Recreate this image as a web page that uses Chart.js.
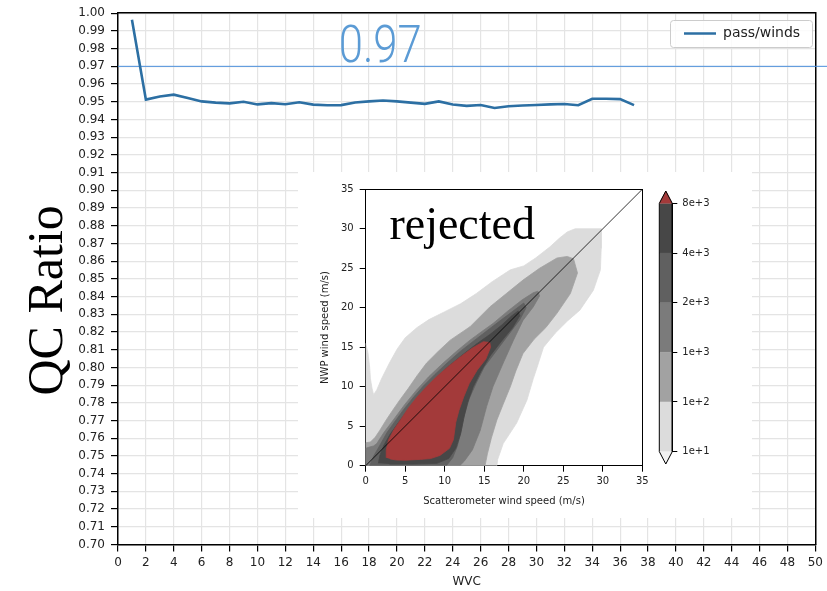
<!DOCTYPE html>
<html><head><meta charset="utf-8">
<script src="https://cdn.jsdelivr.net/npm/chart.js@4.4.1/dist/chart.umd.min.js"></script>
<style>
html,body{margin:0;padding:0;background:#fff;}
#wrap{position:relative;width:827px;height:591px;overflow:hidden;}
#main{position:absolute;left:0;top:0;}
#insetBox{position:absolute;left:298px;top:172px;width:454px;height:346px;background:#fff;}
#inset{position:absolute;left:0;top:0;}
#cbar{position:absolute;left:347px;top:8px;}
</style></head>
<body>
<div id="wrap">
<canvas id="main" width="827" height="591"></canvas>
<div id="insetBox">
 <canvas id="inset" width="360" height="346"></canvas>
 <canvas id="cbar" width="107" height="295"></canvas>
</div>
</div>
<script>
// ---------------- main chart data ----------------
const wvc = [1,2,3,4,5,6,7,8,9,10,11,12,13,14,15,16,17,18,19,20,21,22,23,24,25,26,27,28,29,30,31,32,33,34,35,36,37];
const passWinds = [0.9963,0.9512,0.9530,0.9540,0.9521,0.9502,0.9495,0.9491,0.9500,0.9485,0.9492,0.9486,0.9497,0.9484,0.9480,0.9481,0.9496,0.9502,0.9507,0.9502,0.9495,0.9488,0.9502,0.9484,0.9477,0.9482,0.9465,0.9475,0.9479,0.9482,0.9485,0.9487,0.9480,0.9517,0.9517,0.9515,0.9481];
const threshold = 0.97;
const thresholdText = '0.97';
const thresholdTextAt = 18.8;
const seriesLabel = 'pass/winds';
const xTitle = 'WVC';
const yTitle = 'QC Ratio';

// ---------------- inset (density contour) data ----------------
const insetTitle = 'rejected';
const insetXTitle = 'Scatterometer wind speed (m/s)';
const insetYTitle = 'NWP wind speed (m/s)';
const diagonal = [[0,0],[35,35]];
const contour1e1 = [[0,0],[0,15.5],[0.3,14.2],[0.5,12.5],[0.6,11],[0.8,9.8],[1.0,9.0],[1.4,9.6],[2,11.0],[3,13.0],[4,14.8],[5,16.2],[6.5,17.5],[8,18.5],[10,19.5],[12,20.5],[14,21.8],[16,23.3],[18.3,24.8],[20,25.3],[21.5,26.3],[23.3,27.7],[24.5,28.8],[25.5,29.6],[26.5,30],[29.8,30],[29.8,27.5],[29.7,24.8],[28.8,22.2],[27.1,19.7],[25.5,18.3],[24,16.8],[22.5,15],[21.7,12.5],[21.2,11],[20.4,8.3],[19.1,5.4],[17.4,2.8],[16.7,0.8],[16.6,0]];
const contour1e2 = [[0,0],[0,2.9],[0.6,3.0],[1.2,3.6],[1.8,4.5],[2.6,5.8],[3.4,7.0],[4.3,8.3],[5.4,9.8],[6.5,11.4],[7.7,13.0],[9.2,14.5],[10.7,15.9],[13.2,17.6],[15.7,20.1],[17.8,21.8],[19.9,23.5],[22,25],[24.2,26.3],[25.5,26.5],[26.3,26.2],[26.8,24.4],[25.9,21.8],[24.2,19.3],[22.8,17.5],[21.3,16],[19.9,14.2],[19,12],[18.3,10],[17.4,7.8],[16.6,5.8],[15.9,3.5],[15.4,1.5],[15.1,0]];
const contour1e3 = [[0,0],[0,2.2],[0.6,2.4],[1.0,2.5],[1.4,2.8],[2.3,4.2],[3.5,5.8],[4.9,7.7],[6.45,9.6],[8,11.3],[9.8,13],[11.5,14.5],[13.2,15.9],[14.7,17],[16.1,18],[18,19.6],[19.8,21],[21.2,21.9],[21.8,22.1],[22.0,21.5],[21.2,20.1],[19.9,18.4],[18.7,15.9],[17.4,13],[16.1,10],[15.3,7.5],[14.5,4.5],[13.5,2],[12.5,0.6],[11.9,0]];
const contour2e3 = [[0.5,0],[1.0,1.2],[1.8,2.6],[2.7,4.2],[3.7,5.6],[4.8,7.1],[6.0,8.6],[7.3,10.1],[8.7,11.5],[10.3,13.0],[12,14.5],[13.8,15.9],[15.5,17.2],[17.2,18.5],[18.8,19.7],[20.0,20.6],[20.3,20.0],[19.5,18.5],[18.0,16.5],[16.5,14.5],[15.0,12.5],[14.0,10.5],[13.1,8.5],[12.5,6.5],[12.1,4.5],[11.6,2.5],[11.0,1.0],[10.2,0]];
const contour4e3 = [[1.6,0.3],[1.8,1.3],[2.3,2.6],[3.1,4.0],[4.1,5.4],[5.2,6.9],[6.4,8.4],[7.6,9.8],[9.0,11.2],[10.5,12.6],[12.2,14.0],[14.0,15.4],[15.7,16.6],[17.2,17.8],[18.5,19.0],[19.3,19.6],[19.5,19.0],[18.6,17.5],[17.2,15.8],[15.8,14.0],[14.6,12.0],[13.6,10.0],[12.9,8.0],[12.4,6.0],[12.0,4.0],[11.4,2.2],[10.5,0.9],[9.0,0.3],[6,0.2],[3,0.2]];
const contour8e3 = [[2.6,1.0],[2.6,2.0],[2.9,3.3],[3.6,4.6],[4.4,5.8],[5.4,7.3],[6.5,8.7],[7.7,10.0],[9.0,11.3],[10.5,12.6],[12.0,13.8],[13.5,14.9],[14.9,15.7],[15.7,15.6],[15.8,15.0],[15.2,13.5],[14.1,12.1],[13.1,10.4],[12.4,8.7],[11.8,7.0],[11.4,5.5],[11.1,3.3],[10.6,2.2],[9.4,1.3],[8.2,0.9],[6.9,0.8],[5.0,0.7],[3.9,0.72],[3.1,0.85]];
const cbLabels = ['1e+1','1e+2','1e+3','2e+3','4e+3','8e+3'];

// ---------------- styles ----------------
const levelColors = ['#dcdcdc','#a2a2a2','#7b7b7b','#606060','#474747','#a33a3a'];
const underColor = '#f2f2f2';
const toXY = a => a.map(p => ({x: p[0], y: p[1]}));

Chart.defaults.font.family = "'DejaVu Sans', sans-serif";
Chart.defaults.color = '#222';

// ---------------- main chart ----------------
const legendBox = {x: 670, y: 20, w: 142, h: 27};
const legendFrame = {
  id: 'legendFrame',
  afterLayout(chart) {
    const lg = chart.legend; if (!lg) return;
    const pad = lg.options.labels.padding;
    const fs = lg.options.labels.font.size;
    const b = legendBox;
    lg.left = b.x + 14 - pad;
    lg.top = b.y + b.h / 2 - pad - fs / 2;
    lg.right = b.x + b.w; lg.bottom = b.y + b.h;
    lg.width = lg.right - lg.left; lg.height = lg.bottom - lg.top;
    if (!lg.__wrapped) {
      const orig = lg.draw;
      lg.draw = function () {
        const c = chart.ctx;
        c.save();
        c.beginPath();
        c.roundRect(b.x + 0.5, b.y + 0.5, b.w, b.h, 3);
        c.fillStyle = 'rgba(255,255,255,0.85)';
        c.fill();
        c.strokeStyle = '#cccccc'; c.lineWidth = 1;
        c.stroke();
        c.restore();
        return orig.apply(this, arguments);
      };
      lg.__wrapped = true;
    }
  }
};
const mainText = {
  id: 'mainText',
  afterDatasetsDraw(chart) {
    const {ctx, chartArea, scales: {x, y}} = chart;
    ctx.save();
    ctx.fillStyle = '#5b9bd5';
    ctx.font = '300 52px Roboto, "Open Sans", sans-serif';
    ctx.textAlign = 'center'; ctx.textBaseline = 'alphabetic';
    ctx.fillText(thresholdText, x.getPixelForValue(thresholdTextAt), y.getPixelForValue(threshold) - 4.5, 83);
    ctx.restore();
    ctx.save();
    ctx.translate(62, (chartArea.top + chartArea.bottom) / 2 + 21.5);
    ctx.rotate(-Math.PI / 2);
    ctx.fillStyle = '#000';
    ctx.font = '50px "Liberation Serif", "Times New Roman", serif';
    ctx.textAlign = 'center'; ctx.textBaseline = 'alphabetic';
    ctx.fillText(yTitle, 0, 0);
    ctx.restore();
  }
};
const gridStyle = {color: '#e4e4e4', lineWidth: 1.2, tickColor: '#000', tickLength: 7, tickWidth: 1.2};
new Chart(document.getElementById('main'), {
  type: 'line',
  data: {datasets: [
    {label: seriesLabel, data: wvc.map((v, i) => ({x: v, y: passWinds[i]})), borderColor: '#2c6fa3', backgroundColor: '#2c6fa3', borderWidth: 2.6, pointRadius: 0, tension: 0, order: 0},
    {label: 'threshold', data: [{x: 0, y: threshold}, {x: 51, y: threshold}], borderColor: '#4a8fdc', borderWidth: 1, pointRadius: 0, clip: false, order: 1}
  ]},
  options: {
    responsive: false, animation: false, events: [],
    layout: {padding: {top: 12.5, right: 10, left: 0, bottom: 0}},
    plugins: {
      legend: {position: 'chartArea', align: 'start',
        labels: {filter: it => it.text === seriesLabel, usePointStyle: true, pointStyle: 'line', pointStyleWidth: 32, padding: 6, font: {size: 14}, color: '#222'}},
      tooltip: {enabled: false}
    },
    scales: {
      x: {type: 'linear', min: 0, max: 50, ticks: {stepSize: 2, padding: 4, font: {size: 12}, maxRotation: 0}, grid: gridStyle,
          border: {color: '#000', width: 1.5}, title: {display: true, text: xTitle, font: {size: 12}, padding: {top: 0, bottom: 2}},
          afterFit(s) { s.height = 46.5; }},
      y: {type: 'linear', min: 0.70, max: 1.00, ticks: {stepSize: 0.01, padding: 6, font: {size: 12}, callback: v => Number(v).toFixed(2)}, grid: gridStyle,
          border: {color: '#000', width: 1.5}, afterFit(s) { s.width = 118; }},
      xTop: {type: 'linear', position: 'top', min: 0, max: 50, grid: {display: false}, ticks: {display: false}, border: {color: '#000', width: 1.5}, afterFit(s) { s.height = 0; }},
      yRight: {type: 'linear', position: 'right', min: 0.7, max: 1, grid: {display: false}, ticks: {display: false}, border: {color: '#000', width: 1.5}, afterFit(s) { s.width = 0; }}
    }
  },
  plugins: [legendFrame, mainText]
});

// ---------------- inset chart ----------------
const insetText = {
  id: 'insetText',
  afterDatasetsDraw(chart) {
    const {ctx, scales: {x, y}} = chart;
    ctx.save();
    ctx.fillStyle = '#000';
    ctx.font = '46px "Liberation Serif", "Times New Roman", serif';
    ctx.textAlign = 'left'; ctx.textBaseline = 'alphabetic';
    ctx.fillText(insetTitle, x.getPixelForValue(3.0), y.getPixelForValue(28.7));
    ctx.restore();
  }
};
const contours = [contour1e1, contour1e2, contour1e3, contour2e3, contour4e3, contour8e3];
const insetSets = contours.map((pts, i) => ({
  data: toXY(pts), fill: 'shape', backgroundColor: levelColors[i], borderColor: levelColors[i],
  borderWidth: 0.8, pointRadius: 0, tension: 0, order: 10 - i
}));
insetSets.push({data: toXY(diagonal), borderColor: '#000', borderWidth: 0.8, pointRadius: 0, fill: false, order: 0});
const insetTicks = {stepSize: 5, font: {size: 10}, maxRotation: 0};
new Chart(document.getElementById('inset'), {
  type: 'line',
  data: {datasets: insetSets},
  options: {
    responsive: false, animation: false, events: [],
    layout: {padding: {top: 17.3, right: 15.7, left: 0, bottom: 0}},
    plugins: {legend: {display: false}, tooltip: {enabled: false}},
    scales: {
      x: {type: 'linear', min: 0, max: 35, ticks: Object.assign({padding: 4}, insetTicks),
          grid: {drawOnChartArea: false, tickLength: 6, tickColor: '#000'}, border: {color: '#000', width: 1},
          title: {display: true, text: insetXTitle, font: {size: 10}, padding: {top: 0, bottom: 10.3}},
          afterFit(s) { s.height = 52.3; }},
      y: {type: 'linear', min: 0, max: 35, ticks: Object.assign({padding: 6}, insetTicks),
          grid: {drawOnChartArea: false, tickLength: 6, tickColor: '#000'}, border: {color: '#000', width: 1},
          title: {display: true, text: insetYTitle, font: {size: 10}, padding: {top: 21, bottom: 0}},
          afterFit(s) { s.width = 67.7; }},
      x2: {type: 'linear', position: 'top', min: 0, max: 35, grid: {display: false}, ticks: {display: false}, border: {color: '#000', width: 1}, afterFit(s) { s.height = 0; }},
      y2: {type: 'linear', position: 'right', min: 0, max: 35, grid: {display: false}, ticks: {display: false}, border: {color: '#000', width: 1}, afterFit(s) { s.width = 0; }}
    }
  },
  plugins: [insetText]
});

// ---------------- colorbar ----------------
const cbSets = levelColors.slice(0, 5).map((c, i) => ({
  data: toXY([[0, i], [1, i], [1, i + 1], [0, i + 1]]), fill: 'shape', backgroundColor: c, borderColor: c,
  borderWidth: 0.5, pointRadius: 0, tension: 0, order: 5
}));
const nLev = cbLabels.length - 1;
cbSets.push({data: toXY([[0, nLev], [0.5, nLev + 0.25], [1, nLev]]), fill: 'shape', backgroundColor: levelColors[5], borderColor: levelColors[5], borderWidth: 0.5, pointRadius: 0, order: 4});
cbSets.push({data: toXY([[0, 0], [0.5, -0.25], [1, 0]]), fill: 'shape', backgroundColor: underColor, borderColor: underColor, borderWidth: 0.5, pointRadius: 0, order: 4});
cbSets.push({data: toXY([[0.5, -0.25], [0, 0], [0, nLev], [0.5, nLev + 0.25], [1, nLev], [1, 0], [0.5, -0.25]]), fill: false, borderColor: '#000', borderWidth: 1, pointRadius: 0, clip: false, order: 0});
new Chart(document.getElementById('cbar'), {
  type: 'line',
  data: {datasets: cbSets},
  options: {
    responsive: false, animation: false, events: [],
    layout: {padding: {left: 14.3, top: 9.3, bottom: 9, right: 0}},
    plugins: {legend: {display: false}, tooltip: {enabled: false}},
    scales: {
      x: {type: 'linear', min: 0, max: 1, display: false},
      y: {type: 'linear', position: 'right', min: -0.25, max: nLev + 0.25,
          afterBuildTicks(s) { s.ticks = cbLabels.map((_, i) => ({value: i})); },
          ticks: {font: {size: 10}, padding: 5, callback: v => cbLabels[v]},
          grid: {drawOnChartArea: false, tickLength: 5, tickColor: '#000', color: '#000'},
          border: {display: false},
          afterFit(s) { s.width = 79.7; }}
    }
  }
});
</script>
</body></html>
